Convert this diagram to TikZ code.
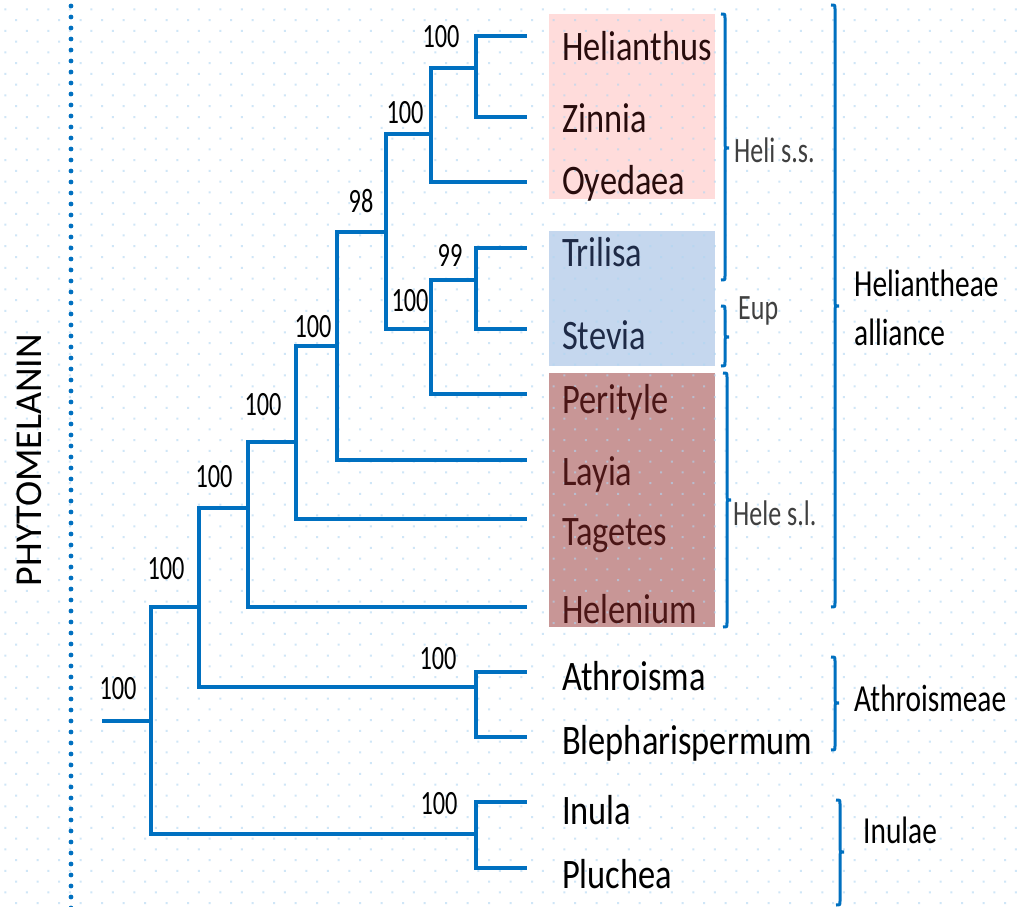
\documentclass[tikz,border=0pt]{standalone}
\usepackage{fontspec}
\usepackage{graphicx}
\setmainfont{Carlito}
\definecolor{treeblue}{RGB}{0,112,192}
\definecolor{bgdot}{RGB}{175,214,242}
\definecolor{pinkbox}{RGB}{255,220,219}
\definecolor{bluebox}{RGB}{197,215,238}
\definecolor{brownbox}{RGB}{200,150,150}
\definecolor{pinktext}{RGB}{40,12,12}
\definecolor{bluetext}{RGB}{30,42,70}
\definecolor{browntext}{RGB}{75,22,22}
\definecolor{grptext}{RGB}{64,64,64}
\newcommand{\mytax}[1]{\scalebox{1}[1.22]{#1}}
\newcommand{\mynum}[1]{\scalebox{1}[1.4]{#1}}
\newcommand{\mygrp}[1]{\scalebox{1}[1.37]{#1}}
\newcommand{\myclade}[1]{\scalebox{1}[1.3]{#1}}
\newcommand{\mybrace}[4]{\draw[brk] ({#1-4},#2) .. controls (#1,#2) .. ({#1},{#2+4}) -- ({#1},{#3-3}) .. controls (#1,#3) .. ({#1+4},#3) .. controls (#1,#3) .. ({#1},{#3+3}) -- ({#1},{#4-4}) .. controls (#1,#4) .. ({#1-4},#4);}
\begin{document}
\begin{tikzpicture}[x=1pt,y=-1pt,
  taxon/.style={anchor=base west, inner sep=0pt, font=\fontsize{34.4}{40}\selectfont},
  num/.style={anchor=base, inner sep=0pt, font=\fontsize{24.3}{28}\selectfont},
  grp/.style={anchor=base west, inner sep=0pt, text=grptext, font=\fontsize{26}{30}\selectfont},
  clade/.style={anchor=base west, inner sep=0pt, font=\fontsize{29.4}{34}\selectfont},
  branch/.style={draw=treeblue, line width=4pt},
  brk/.style={draw=treeblue, line width=3pt}]
\useasboundingbox (0,0) rectangle (1021,907);
\fill[white] (0,0) rectangle (1021,907);
% coloured boxes
\fill[pinkbox] (549,14) rectangle (715,199);
\fill[bluebox] (549,231) rectangle (715,366);
\fill[brownbox] (549,373) rectangle (715,627);
% background dot pattern
\foreach \r in {0,...,84} {
  \pgfmathsetmacro{\yy}{8.3+10.77*\r}
  \pgfmathsetmacro{\xo}{4.3+10.75*mod(\r,2)}
  \fill[bgdot, opacity=0.6] \foreach \c in {0,...,47} { ({\xo+21.5*\c},\yy) rectangle ++(2,2) };
}
% dotted vertical line
\foreach \i in {0,...,82} { \fill[treeblue] (71,{6+11*\i}) circle (2.4pt); }
\node[rotate=90, inner sep=0pt, font=\fontsize{38}{44}\selectfont] (phy) at (29.5,460) {PHYTOMELANIN};
% tips
\coordinate (tHel) at (527,36);
\coordinate (tZin) at (527,117);
\coordinate (tOye) at (527,182);
\coordinate (tTri) at (527,248);
\coordinate (tSte) at (527,329);
\coordinate (tPer) at (527,394);
\coordinate (tLay) at (527,460);
\coordinate (tTag) at (527,519);
\coordinate (tHln) at (527,607);
\coordinate (tAth) at (527,672);
\coordinate (tBle) at (527,737);
\coordinate (tInu) at (527,802);
\coordinate (tPlu) at (527,868);
% internal nodes
\coordinate (nHZ) at (476,68);
\coordinate (nHZO) at (431,134);
\coordinate (nTS) at (476,280);
\coordinate (nTSP) at (431,329);
\coordinate (n98) at (386,232);
\coordinate (nA) at (337,346);
\coordinate (nB) at (296,442);
\coordinate (nC) at (248,508);
\coordinate (nAB) at (476,687);
\coordinate (nD) at (199,607);
\coordinate (nIP) at (476,834);
\coordinate (root) at (151,721);
\coordinate (stem) at (102,721);
% branches
\draw[branch] (nHZ) |- (tHel);
\draw[branch] (nHZ) |- (tZin);
\draw[branch] (nHZO) |- (nHZ);
\draw[branch] (nHZO) |- (tOye);
\draw[branch] (nTS) |- (tTri);
\draw[branch] (nTS) |- (tSte);
\draw[branch] (nTSP) |- (nTS);
\draw[branch] (nTSP) |- (tPer);
\draw[branch] (n98) |- (nHZO);
\draw[branch] (n98) |- (nTSP);
\draw[branch] (nA) |- (n98);
\draw[branch] (nA) |- (tLay);
\draw[branch] (nB) |- (nA);
\draw[branch] (nB) |- (tTag);
\draw[branch] (nC) |- (nB);
\draw[branch] (nC) |- (tHln);
\draw[branch] (nAB) |- (tAth);
\draw[branch] (nAB) |- (tBle);
\draw[branch] (nD) |- (nC);
\draw[branch] (nD) |- (nAB);
\draw[branch] (nIP) |- (tInu);
\draw[branch] (nIP) |- (tPlu);
\draw[branch] (root) |- (nD);
\draw[branch] (root) |- (nIP);
\draw[branch] (stem) -- (root);
% support values
\node[num] (bHZ) at (441,48) {\mynum{100}};
\node[num] (bHZO) at (405,124) {\mynum{100}};
\node[num] (b98) at (361,212) {\mynum{98}};
\node[num] (bTS) at (450,266) {\mynum{99}};
\node[num] (bTSP) at (410,311) {\mynum{100}};
\node[num] (bA) at (313,337) {\mynum{100}};
\node[num] (bB) at (263,415) {\mynum{100}};
\node[num] (bC) at (214,487) {\mynum{100}};
\node[num] (bD) at (166,579) {\mynum{100}};
\node[num] (broot) at (118,699) {\mynum{100}};
\node[num] (bAB) at (438,669) {\mynum{100}};
\node[num] (bIP) at (439,814) {\mynum{100}};
% taxon labels
\node[taxon, text=pinktext] (lHel) at (562,61) {\mytax{Helianthus}};
\node[taxon, text=pinktext] (lZin) at (562,132) {\mytax{Zinnia}};
\node[taxon, text=pinktext] (lOye) at (562,194) {\mytax{Oyedaea}};
\node[taxon, text=bluetext] (lTri) at (562,266) {\mytax{Trilisa}};
\node[taxon, text=bluetext] (lSte) at (562,349) {\mytax{Stevia}};
\node[taxon, text=browntext] (lPer) at (562,413) {\mytax{Perityle}};
\node[taxon, text=browntext] (lLay) at (562,485) {\mytax{Layia}};
\node[taxon, text=browntext] (lTag) at (562,545) {\mytax{Tagetes}};
\node[taxon, text=browntext] (lHln) at (562,623) {\mytax{Helenium}};
\node[taxon] (lAth) at (562,690) {\mytax{Athroisma}};
\node[taxon] (lBle) at (562,754) {\mytax{Blepharispermum}};
\node[taxon] (lInu) at (562,824) {\mytax{Inula}};
\node[taxon] (lPlu) at (562,888) {\mytax{Pluchea}};
% brackets
\mybrace{725}{14}{148}{280}
\mybrace{725}{306}{337}{366}
\mybrace{727}{373}{500}{627}
\mybrace{835}{5}{306}{607}
\mybrace{835}{657}{703}{750}
\mybrace{840}{800}{852}{905}
% group labels
\node[grp] (gHeli) at (734,162) {\mygrp{Heli s.s.}};
\node[grp] (gEup) at (738,319) {\mygrp{Eup}};
\node[grp] (gHele) at (733,525) {\mygrp{Hele s.l.}};
\node[clade] (cHel1) at (854,296) {\myclade{Heliantheae}};
\node[clade] (cHel2) at (854,345) {\myclade{alliance}};
\node[clade] (cAth) at (854,711) {\myclade{Athroismeae}};
\node[clade] (cInu) at (863,843) {\myclade{Inulae}};
\end{tikzpicture}
\end{document}
